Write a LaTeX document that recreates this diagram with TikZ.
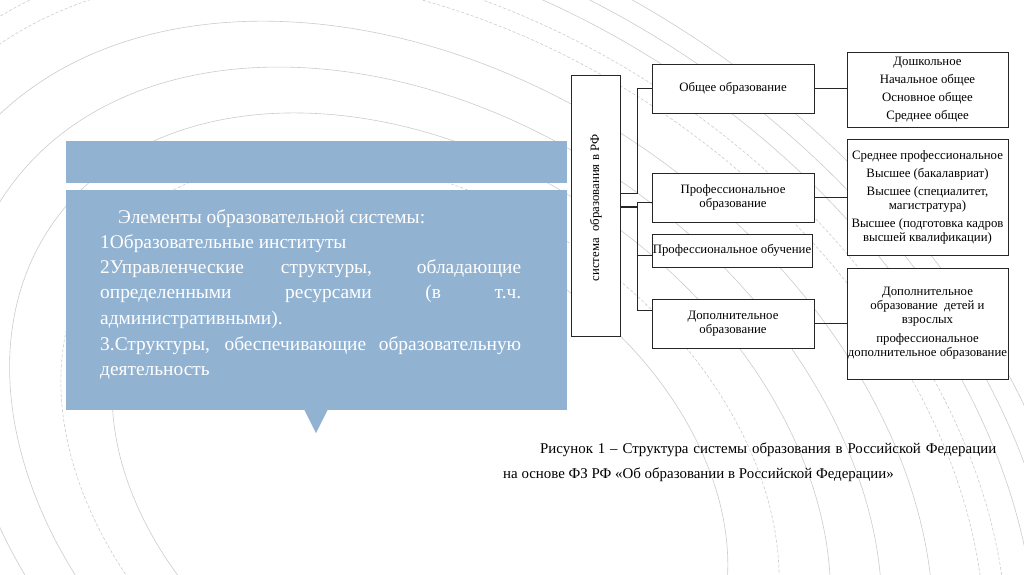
\documentclass[tikz,border=0pt]{standalone}
\usepackage{fontspec}
\setmainfont{Liberation Serif}
\definecolor{panelblue}{RGB}{146,178,209}
\begin{document}
\begin{tikzpicture}[x=1pt,y=-1pt,
  bgline/.style={draw=black!20, line width=0.6pt},
  bgdash/.style={draw=black!20, line width=0.6pt, dash pattern=on 3pt off 2pt},
  box/.style={draw=black!85, line width=1pt, fill=white, inner sep=0pt, align=center, font=\fontsize{12.8}{14}\selectfont},
  link/.style={draw=black!85, line width=1pt},
  paneltext/.style={anchor=base west, inner sep=0pt, text=white, font=\fontsize{19.4}{25}\selectfont},
  captext/.style={anchor=base west, inner sep=0pt, font=\fontsize{14.9}{16}\selectfont}]
\useasboundingbox (0,0) rectangle (1024,574);
\fill[white] (0,0) rectangle (1024,574);
% background rings
\begin{scope}[shift={(420,480)}, rotate=-35]
  \draw[bgline] (0,0) ellipse [x radius=336pt, y radius=240pt];
  \draw[bgdash] (0,0) ellipse [x radius=392pt, y radius=280pt];
  \draw[bgline] (0,0) ellipse [x radius=448pt, y radius=320pt];
  \draw[bgline] (0,0) ellipse [x radius=504pt, y radius=360pt];
  \draw[bgline] (0,0) ellipse [x radius=560pt, y radius=400pt];
  \draw[bgdash] (0,0) ellipse [x radius=616pt, y radius=440pt];
  \draw[bgdash] (0,0) ellipse [x radius=640pt, y radius=458pt];
  \draw[bgline] (0,0) ellipse [x radius=672pt, y radius=480pt];
  \draw[bgline] (0,0) ellipse [x radius=700pt, y radius=500pt];
  \draw[bgline] (0,0) ellipse [x radius=728pt, y radius=520pt];
\end{scope}
% left panel
\fill[panelblue] (66,141) rectangle (567,183);
\fill[panelblue] (66,190) rectangle (567,410);
\fill[panelblue] (304,409) -- (328,409) -- (316,433) -- cycle;
\node[paneltext] (p1) at (118,223) {Элементы образовательной системы:};
\node[paneltext] (p2) at (100,248) {1Образовательные институты};
\node[paneltext] (p3) at (100,273) {\makebox[421pt][s]{2Управленческие структуры, обладающие}};
\node[paneltext] (p4) at (100,298) {\makebox[421pt][s]{определенными ресурсами (в т.ч.}};
\node[paneltext] (p5) at (100,324) {административными).};
\node[paneltext] (p6) at (100,350) {\makebox[421pt][s]{3.Структуры, обеспечивающие образовательную}};
\node[paneltext] (p7) at (100,375) {деятельность};
% diagram
\node[box, minimum width=49pt, minimum height=261pt] (sys) at (595.5,205.5) {};
\node[rotate=90, inner sep=0pt, font=\fontsize{12.8}{14}\selectfont] (systext) at (596,208) {система\ \ образования в РФ};
\node[box, minimum width=162pt, minimum height=49pt] (obsh) at (733,88.5) {Общее образование};
\node[box, minimum width=162pt, minimum height=49pt] (prof) at (733,197.5) {Профессиональное\\образование};
\node[box, minimum width=160pt, minimum height=33pt] (profob) at (732,250.5) {Профессиональное обучение};
\node[box, minimum width=162pt, minimum height=49pt] (dop) at (733,323.5) {Дополнительное\\образование};
\node[box, minimum width=161pt, minimum height=75pt] (r1) at (927.5,89.5) {Дошкольное\\[4pt]Начальное общее\\[4pt]Основное общее\\[4pt]Среднее общее};
\node[box, minimum width=161pt, minimum height=116pt] (r2) at (927.5,197) {Среднее профессиональное\\[4pt]Высшее (бакалавриат)\\[4pt]Высшее (специалитет,\\магистратура)\\[4pt]Высшее (подготовка кадров\\высшей квалификации)};
\node[box, minimum width=161pt, minimum height=111pt] (r3) at (927.5,323.5) {Дополнительное\\образование\ \ детей и\\взрослых\\[5pt]профессиональное\\дополнительное образование};
% connectors
\coordinate (j1) at (637,193);
\coordinate (j2) at (637,207);
\coordinate (j3) at (637,202);
\coordinate (j5) at (637,255);
\coordinate (j4) at (637,310);
\draw[link] (sys.east |- j1) -- (j1) |- (obsh.west);
\draw[link, line width=1.8pt] (sys.east |- j2) -- (j2);
\draw[link] (j3) -- (j4);
\draw[link] (j3) -- (prof.west |- j3);
\draw[link] (j5) -- (profob.west |- j5);
\draw[link] (j4) -- (dop.west |- j4);
\draw[link] (obsh.east) -- (r1.west |- obsh.east);
\draw[link] (prof.east |- r2.west) -- (r2.west);
\draw[link] (dop.east) -- (r3.west |- dop.east);
% caption
\node[captext] (c1) at (540,453) {\makebox[456pt][s]{Рисунок 1 – Структура системы образования в Российской Федерации}};
\node[captext] (c2) at (503,478) {на основе ФЗ РФ «Об образовании в Российской Федерации»};
\end{tikzpicture}
\end{document}
